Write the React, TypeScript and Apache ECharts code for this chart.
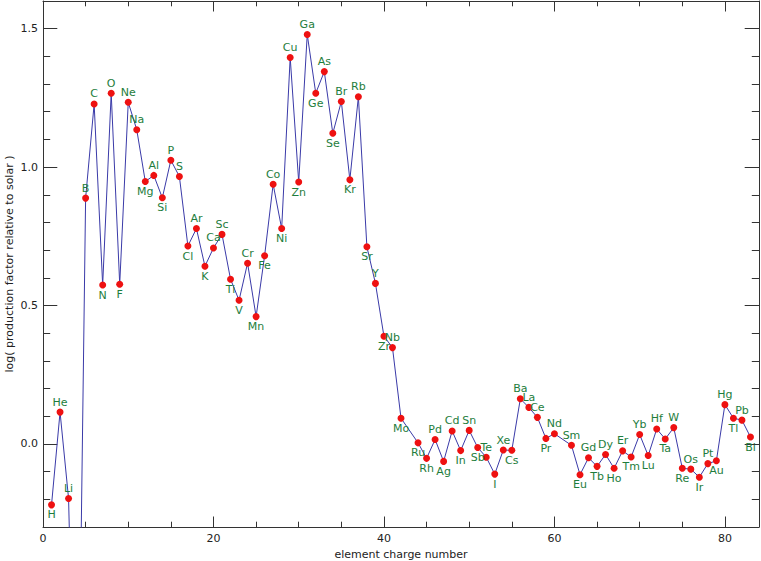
import React, { useEffect, useRef } from "react";
import * as echarts from "echarts";

const chargeNumbers = [
  1, 2, 3, 4, 5, 6, 7, 8, 9, 10, 11, 12, 13, 14, 15, 16, 17, 18, 19, 20, 21, 22, 23, 24, 25, 26, 27, 28, 29, 30,
  31, 32, 33, 34, 35, 36, 37, 38, 39, 40, 41, 42, 44, 45, 46, 47, 48, 49, 50, 51, 52, 53, 54, 55, 56, 57, 58, 59, 60,
  62, 63, 64, 65, 66, 67, 68, 69, 70, 71, 72, 73, 74, 75, 76, 77, 78, 79, 80, 81, 82, 83,
];
const elements = [
  "H", "He", "Li", "Be", "B", "C", "N", "O", "F", "Ne", "Na", "Mg", "Al", "Si", "P", "S", "Cl", "Ar", "K", "Ca",
  "Sc", "Ti", "V", "Cr", "Mn", "Fe", "Co", "Ni", "Cu", "Zn", "Ga", "Ge", "As", "Se", "Br", "Kr", "Rb", "Sr", "Y", "Zr",
  "Nb", "Mo", "Ru", "Rh", "Pd", "Ag", "Cd", "In", "Sn", "Sb", "Te", "I", "Xe", "Cs", "Ba", "La", "Ce", "Pr", "Nd",
  "Sm", "Eu", "Gd", "Tb", "Dy", "Ho", "Er", "Tm", "Yb", "Lu", "Hf", "Ta", "W", "Re", "Os", "Ir", "Pt", "Au", "Hg",
  "Tl", "Pb", "Bi",
];
const productionFactors = [
  -0.22, 0.115, -0.197, -1.45, 0.888, 1.228, 0.574, 1.267, 0.577, 1.234, 1.135, 0.948, 0.97, 0.889, 1.025, 0.966,
  0.715, 0.778, 0.642, 0.708, 0.757, 0.595, 0.519, 0.653, 0.46, 0.68, 0.938, 0.778, 1.396, 0.946, 1.479, 1.267,
  1.345, 1.122, 1.237, 0.954, 1.254, 0.712, 0.58, 0.389, 0.348, 0.093, 0.004, -0.052, 0.016, -0.063, 0.047, -0.024,
  0.049, -0.013, -0.048, -0.109, -0.022, -0.023, 0.163, 0.132, 0.096, 0.02, 0.037, -0.005, -0.111, -0.05, -0.081,
  -0.038, -0.088, -0.025, -0.047, 0.034, -0.042, 0.054, 0.018, 0.059, -0.088, -0.091, -0.12, -0.071, -0.061, 0.142,
  0.093, 0.086, 0.025,
];
// t = label above the point, b = below, n = no label
const labelSides = [
  "b", "t", "t", "n", "t", "t", "b", "t", "b", "t", "t", "b", "t", "b", "t", "t", "b", "t", "b", "t",
  "t", "b", "b", "t", "b", "b", "t", "b", "t", "b", "t", "b", "t", "b", "t", "b", "t", "b", "t", "b",
  "t", "b", "b", "b", "t", "b", "t", "b", "t", "b", "t", "b", "t", "b", "t", "t", "t", "b", "t",
  "t", "b", "t", "b", "t", "b", "t", "b", "t", "b", "t", "b", "t", "b", "t", "b", "t", "b", "t",
  "b", "t", "b",
];

const xMajorTicks = [0, 20, 40, 60, 80];
const xMinorTicks = [5, 10, 15, 25, 30, 35, 45, 50, 55, 65, 70, 75];
const yMajorTicks = [0, 0.5, 1.0, 1.5];
const yMinorTicks = [-0.2, -0.1, 0.1, 0.2, 0.3, 0.4, 0.6, 0.7, 0.8, 0.9, 1.1, 1.2, 1.3, 1.4, 1.6];

const X_MIN = 0;
const X_MAX = 84;
const Y_MIN = -0.3;
const Y_MAX = 1.6;

const FONT = "DejaVu Sans";
const AXIS_COLOR = "#333";

export default function App() {
  const ref = useRef<HTMLDivElement>(null);
  useEffect(() => {
    document.body.style.margin = "0";
    const chart = echarts.init(ref.current!, undefined, { renderer: "svg" });

    const data = chargeNumbers.map((z, i) => {
      const side = labelSides[i];
      return {
        name: elements[i],
        value: [z, productionFactors[i]],
        label:
          side === "n"
            ? { show: false }
            : { show: true, position: side === "t" ? "top" : "bottom", distance: 1 },
      };
    });

    const xAxisBase = (position: string, ticks: number[], len: number, main: boolean, labels: boolean) => ({
      type: "value",
      position,
      min: X_MIN,
      max: X_MAX,
      splitLine: { show: false },
      axisLine: { show: main, onZero: false, lineStyle: { color: AXIS_COLOR, width: 1 } },
      axisTick: { show: true, inside: true, length: len, customValues: ticks, lineStyle: { color: AXIS_COLOR, width: 1 } },
      axisLabel: labels
        ? {
            show: true,
            customValues: ticks,
            margin: 6,
            color: "#222",
            fontFamily: FONT,
            fontSize: 11,
            formatter: (v: number) => String(Math.round(v)),
          }
        : { show: false },
    });
    const yAxisBase = (position: string, ticks: number[], len: number, main: boolean, labels: boolean) => ({
      type: "value",
      position,
      min: Y_MIN,
      max: Y_MAX,
      splitLine: { show: false },
      axisLine: { show: main, onZero: false, lineStyle: { color: AXIS_COLOR, width: 1 } },
      axisTick: { show: true, inside: true, length: len, customValues: ticks, lineStyle: { color: AXIS_COLOR, width: 1 } },
      axisLabel: labels
        ? {
            show: true,
            customValues: ticks,
            margin: 5,
            color: "#222",
            fontFamily: FONT,
            fontSize: 11,
            formatter: (v: number) => v.toFixed(1),
          }
        : { show: false },
    });

    const xMain: any = xAxisBase("bottom", xMajorTicks, 10.5, true, true);
    xMain.name = "element charge number";
    xMain.nameLocation = "middle";
    xMain.nameGap = 20;
    xMain.nameTextStyle = { fontFamily: FONT, fontSize: 11, color: "#222" };

    const yMain: any = yAxisBase("left", yMajorTicks, 14.3, true, true);
    yMain.name = "log( production factor relative to solar )";
    yMain.nameLocation = "middle";
    yMain.nameGap = 28;
    yMain.nameMoveOverlap = false;
    yMain.nameTextStyle = { fontFamily: FONT, fontSize: 11, color: "#222" };

    chart.setOption({
      animation: false,
      backgroundColor: "#fff",
      grid: { left: 43, right: 2, top: 1, bottom: 34, containLabel: false, outerBoundsMode: "none" },
      xAxis: [
        xMain,
        xAxisBase("bottom", xMinorTicks, 5.3, false, false),
        xAxisBase("top", xMajorTicks, 10.5, true, false),
        xAxisBase("top", xMinorTicks, 5.3, false, false),
      ],
      yAxis: [
        yMain,
        yAxisBase("left", yMinorTicks, 7.2, false, false),
        yAxisBase("right", yMajorTicks, 14.3, true, false),
        yAxisBase("right", yMinorTicks, 7.2, false, false),
      ],
      series: [
        {
          type: "line",
          xAxisIndex: 0,
          yAxisIndex: 0,
          data,
          clip: true,
          symbol: "circle",
          symbolSize: 7,
          showAllSymbol: true,
          itemStyle: { color: "#ee1111" },
          lineStyle: { color: "#3a3aa8", width: 1 },
          label: {
            show: true,
            formatter: "{b}",
            color: "#1e7d3c",
            fontFamily: FONT,
            fontSize: 11,
          },
          labelLayout: { hideOverlap: false },
          emphasis: { disabled: true },
          z: 3,
        },
      ],
    });
    return () => chart.dispose();
  }, []);
  return <div ref={ref} style={{ width: 761, height: 561 }} />;
}
